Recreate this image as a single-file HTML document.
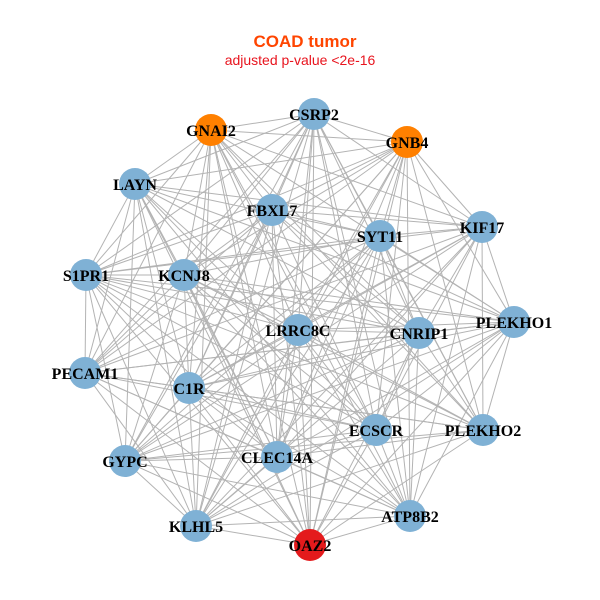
<!DOCTYPE html>
<html><head><meta charset="utf-8"><style>
html,body{margin:0;padding:0;background:#fff;}
svg{display:block;}
text.l{font-family:"Liberation Serif",serif;font-weight:bold;font-size:16px;fill:#000;text-anchor:middle;}
</style></head><body>
<svg id="s" width="600" height="600" xmlns="http://www.w3.org/2000/svg">
<rect width="600" height="600" fill="#fff"/>
<text x="305" y="47" font-family="Liberation Sans,sans-serif" font-weight="bold" font-size="17" fill="#ff4500" text-anchor="middle">COAD tumor</text>
<text x="300" y="65" font-family="Liberation Sans,sans-serif" font-size="14" fill="#e8141e" text-anchor="middle">adjusted p-value &lt;2e-16</text>
<g id="edges" stroke="#b3b3b3" stroke-width="1"></g>
<g id="nodes"></g>
<g>
<text class="l" x="314" y="120">CSRP2</text>
<text class="l" x="211" y="136">GNAI2</text>
<text class="l" x="407" y="148">GNB4</text>
<text class="l" x="135" y="190">LAYN</text>
<text class="l" x="272" y="216">FBXL7</text>
<text class="l" x="380" y="242">SYT11</text>
<text class="l" x="482" y="233">KIF17</text>
<text class="l" x="86" y="281">S1PR1</text>
<text class="l" x="184" y="281">KCNJ8</text>
<text class="l" x="298" y="336">LRRC8C</text>
<text class="l" x="419" y="339">CNRIP1</text>
<text class="l" x="514" y="328">PLEKHO1</text>
<text class="l" x="85" y="379">PECAM1</text>
<text class="l" x="189" y="394">C1R</text>
<text class="l" x="376" y="436">ECSCR</text>
<text class="l" x="483" y="436">PLEKHO2</text>
<text class="l" x="125" y="467">GYPC</text>
<text class="l" x="277" y="463">CLEC14A</text>
<text class="l" x="196" y="532">KLHL5</text>
<text class="l" x="310" y="551">OAZ2</text>
<text class="l" x="410" y="522">ATP8B2</text>
</g>
</svg>
<script>
var N=[[314,114,0],[211,130,1],[407,142,1],[135,184,0],[272,210,0],[380,236,0],[482,227,0],[86,275,0],[184,275,0],[298,330,0],[419,333,0],[514,322,0],[85,373,0],[189,388,0],[376,430,0],[483,430,0],[125,461,0],[277,457,0],[196,526,0],[310,545,2],[410,516,0]];
var ns="http://www.w3.org/2000/svg",E=document.getElementById('edges'),G=document.getElementById('nodes');
for(var i=0;i<N.length;i++)for(var j=i+1;j<N.length;j++){
 if(((i*7+j*3)%11)==0)continue;
 var l=document.createElementNS(ns,'line');
 l.setAttribute('x1',N[i][0]);l.setAttribute('y1',N[i][1]);l.setAttribute('x2',N[j][0]);l.setAttribute('y2',N[j][1]);E.appendChild(l);}
var C=['#7fb1d5','#ff8000','#e41a1c'];
N.forEach(function(n){var c=document.createElementNS(ns,'circle');c.setAttribute('cx',n[0]);c.setAttribute('cy',n[1]);c.setAttribute('r',16);c.setAttribute('fill',C[n[2]]);G.appendChild(c);});
</script>
</body></html>
